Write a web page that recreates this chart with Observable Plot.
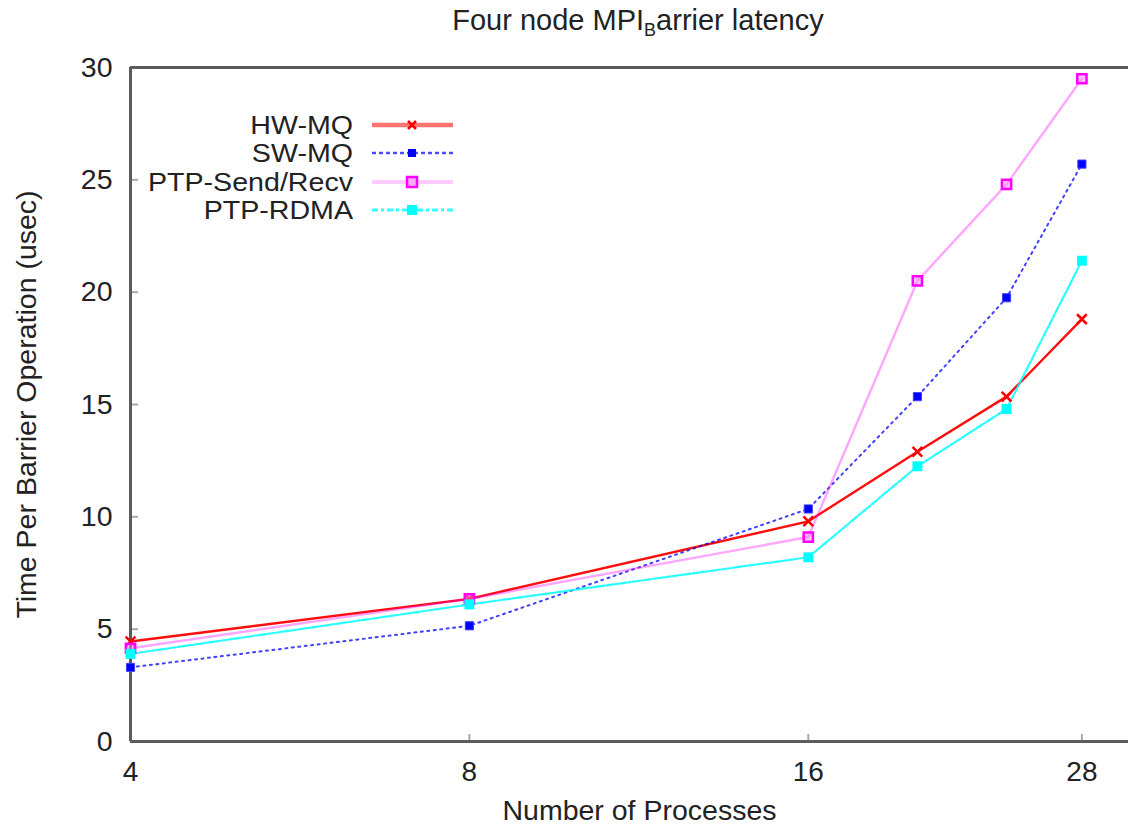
<!DOCTYPE html>
<html>
<head>
<meta charset="utf-8">
<script src="https://cdn.jsdelivr.net/npm/d3@7"></script>
<script src="https://cdn.jsdelivr.net/npm/@observablehq/plot@0.6"></script>
<style>
  html, body { margin: 0; padding: 0; background: #fff; }
  #wrap { position: relative; width: 1130px; height: 826px; overflow: hidden; font-family: "Liberation Sans", Arial, sans-serif; color: #222; }
  #title { position: absolute; left: 130px; width: 1016px; top: 2px; text-align: center; font-size: 29px; line-height: 36px; white-space: nowrap; }
  #title sub { font-size: 0.62em; vertical-align: -0.35em; line-height: 0; }
  #chart { position: absolute; left: 0; top: 40px; }
  #legend { position: absolute; left: 0; top: 0; pointer-events: none; }
</style>
</head>
<body>
<div id="wrap">
  <div id="title">Four node MPI<sub>B</sub>arrier latency</div>
  <div id="chart"></div>
  <svg id="legend" width="1130" height="826"></svg>
</div>
<script>
// ---- data ----
const processes = [4, 8, 16, 20, 24, 28];
const hwMQ        = [4.45, 6.35, 9.8, 12.9, 15.35, 18.8];
const swMQ        = [3.3, 5.15, 10.35, 15.35, 19.75, 25.7];
const ptpSendRecv = [4.15, 6.35, 9.1, 20.5, 24.8, 29.5];
const ptpRDMA     = [3.9, 6.1, 8.2, 12.25, 14.8, 21.4];
const seriesNames = ["HW-MQ", "SW-MQ", "PTP-Send/Recv", "PTP-RDMA"];
const xTicks = [4, 8, 16, 28];
const yTicks = [0, 5, 10, 15, 20, 25, 30];
const xLabel = "Number of Processes";
const yLabel = "Time Per Barrier Operation (usec)";

const seriesValues = [hwMQ, swMQ, ptpSendRecv, ptpRDMA];
const rows = seriesNames.map((name, j) =>
  processes.map((p, i) => ({series: name, processes: p, time: seriesValues[j][i]})));

// styles
const lineStyles = [
  {stroke: "#ff0000", strokeWidth: 2.4, strokeOpacity: 0.95},
  {stroke: "#0000ff", strokeWidth: 2, strokeOpacity: 0.75, strokeDasharray: "2,4.5"},
  {stroke: "#ff00ff", strokeWidth: 2.4, strokeOpacity: 0.35},
  {stroke: "#00ffff", strokeWidth: 2.2, strokeOpacity: 0.85, strokeDasharray: "7,2,2,2"}
];

const frameColor = "#5c5c5c";
const tickColor = "#a8a8a8";
const font = "'Liberation Sans', Arial, sans-serif";

const chart = Plot.plot({
  width: 1130,
  height: 786,
  marginTop: 27,
  marginBottom: 85,
  marginLeft: 130,
  marginRight: 2,
  style: {fontFamily: font, fontSize: "28px", color: "#222", background: "transparent"},
  x: {type: "log", domain: [4, 30.8]},
  y: {domain: [0, 30]},
  marks: [
    // inner ticks
    Plot.axisY(yTicks.slice(1, -1), {tickSize: -8, stroke: tickColor, strokeWidth: 2, tickFormat: () => "", label: null}),
    Plot.axisX(xTicks.slice(1), {tickSize: -7, stroke: tickColor, strokeWidth: 2, tickFormat: () => "", label: null}),
    // frame
    Plot.ruleY([0, 30], {stroke: frameColor, strokeWidth: 3}),
    Plot.ruleX([4], {stroke: frameColor, strokeWidth: 3}),
    // tick labels + titles
    Plot.axisY(yTicks, {tickSize: 0, tickPadding: 18, tickFormat: d => String(d), label: yLabel, labelAnchor: "center", labelOffset: 115, labelArrow: "none", fontSize: 28.5}),
    Plot.axisX(xTicks, {tickSize: 0, tickPadding: 20, tickFormat: d => String(d), label: null}),
    Plot.text([xLabel], {text: d => d, frameAnchor: "bottom", dy: 69, dx: 10, lineAnchor: "middle", fontSize: 28.5, fill: "#222"}),
    // lines
    ...rows.map((r, j) => Plot.line(r, {x: "processes", y: "time", ...lineStyles[j]})),
    // points
    Plot.dot(rows[0], {x: "processes", y: "time", symbol: "times", r: 4.5, stroke: "#ff0000", strokeWidth: 2.5}),
    Plot.dot(rows[1], {x: "processes", y: "time", symbol: "square", r: 4.6, fill: "#0000ff", stroke: "#4040ff", strokeWidth: 1}),
    Plot.dot(rows[2], {x: "processes", y: "time", symbol: "square", r: 5.2, fill: "#ff88ff", fillOpacity: 0.5, stroke: "#ff00ff", strokeWidth: 2.5}),
    Plot.dot(rows[3], {x: "processes", y: "time", symbol: "square", r: 5.6, fill: "#00ffff"})
  ]
});
document.getElementById("chart").appendChild(chart);

// ---- legend ----
const legend = d3.select("#legend");
const legendRows = [125, 153, 182, 210];
const legendLine = [
  {stroke: "#ff0000", "stroke-width": 4.5, "stroke-opacity": 0.55},
  {stroke: "#0000ff", "stroke-width": 2.5, "stroke-opacity": 0.7, "stroke-dasharray": "4,3"},
  {stroke: "#ff00ff", "stroke-width": 4, "stroke-opacity": 0.2},
  {stroke: "#00ffff", "stroke-width": 3, "stroke-opacity": 0.8, "stroke-dasharray": "6,3,3,3"}
];
seriesNames.forEach((name, j) => {
  const y = legendRows[j];
  legend.append("text")
    .attr("transform", `translate(353,${y}) scale(1.1,1)`)
    .attr("dy", "0.35em")
    .attr("text-anchor", "end").attr("font-size", 26)
    .attr("font-family", font).attr("fill", "#222").text(name);
  const ln = legend.append("line").attr("x1", 372).attr("x2", 453).attr("y1", y).attr("y2", y);
  Object.entries(legendLine[j]).forEach(([k, v]) => ln.attr(k, v));
});
// legend markers
legend.append("path").attr("d", "M408,121L416,129M416,121L408,129").attr("stroke", "#ff0000").attr("stroke-width", 2.5);
legend.append("rect").attr("x", 408).attr("y", 149).attr("width", 8).attr("height", 8).attr("fill", "#0000ff");
legend.append("rect").attr("x", 407).attr("y", 177).attr("width", 10).attr("height", 10).attr("fill", "#ffaaff").attr("stroke", "#ff00ff").attr("stroke-width", 2.5);
legend.append("rect").attr("x", 407).attr("y", 205).attr("width", 10).attr("height", 10).attr("fill", "#00ffff");
</script>
</body>
</html>
